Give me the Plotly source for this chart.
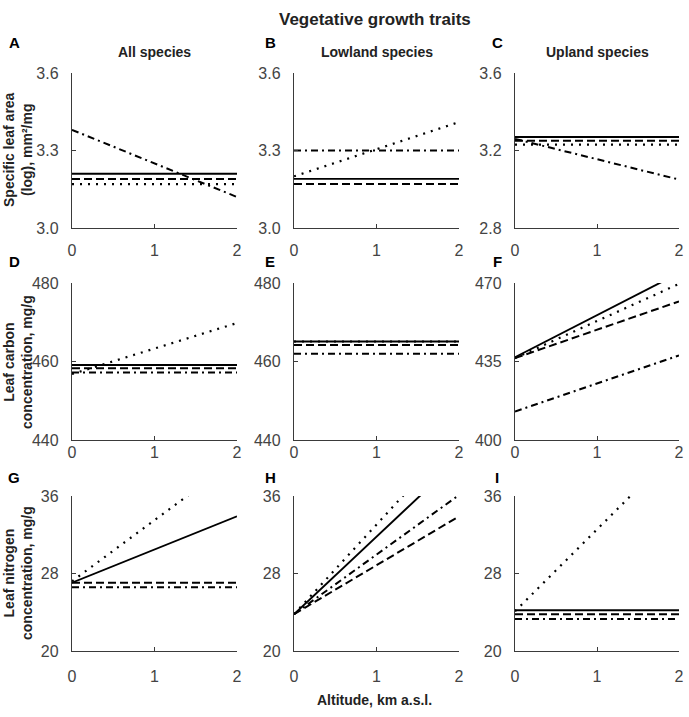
import plotly.graph_objects as go

# ---------------- data ----------------
altitude = [0, 2]                      # km a.s.l.
panels = ["A", "B", "C", "D", "E", "F", "G", "H", "I"]
col_titles = ["All species", "Lowland species", "Upland species"]
row_titles = ["Specific leaf area<br>(log), mm²/mg",
              "Leaf carbon<br>concentration, mg/g",
              "Leaf nitrogen<br>concentration, mg/g"]

# value at 0 km and at 2 km for each panel A..I
solid_start   = [3.21, 3.19, 3.27, 459.1, 465.1, 436.9, 27.05, 23.8, 24.2]
solid_end     = [3.21, 3.19, 3.27, 459.1, 465.1, 474.4, 33.9, 39.8, 24.2]
dashed_start  = [3.19, 3.17, 3.25, 458.3, 464.2, 436.5, 27.05, 23.8, 23.8]
dashed_end    = [3.19, 3.17, 3.25, 458.3, 464.2, 461.8, 27.05, 33.9, 23.8]
dotted_start  = [3.17, 3.20, 3.23, 456.8, 465.1, 436.5, 27.2, 23.8, 24.1]
dotted_end    = [3.17, 3.41, 3.23, 469.8, 465.1, 469.6, 39.8, 42.3, 41.0]
dashdot_start = [3.38, 3.30, 3.26, 457.2, 462.0, 412.7, 26.57, 23.8, 23.3]
dashdot_end   = [3.12, 3.30, 3.05, 457.2, 462.0, 437.7, 26.57, 36.1, 23.3]

y_ranges = [[3.0, 3.6], [3.0, 3.6], [2.8, 3.6],
            [440, 480], [440, 480], [400, 470],
            [20, 36], [20, 36], [20, 36]]
y_ticks = [[3.0, 3.3, 3.6], [3.0, 3.3, 3.6], [2.8, 3.2, 3.6],
           [440, 460, 480], [440, 460, 480], [400, 435, 470],
           [20, 28, 36], [20, 28, 36], [20, 28, 36]]
y_ticklabels = [["3.0", "3.3", "3.6"], ["3.0", "3.3", "3.6"], ["2.8", "3.2", "3.6"],
                ["440", "460", "480"], ["440", "460", "480"], ["400", "435", "470"],
                ["20", "28", "36"], ["20", "28", "36"], ["20", "28", "36"]]
x_ticks = [0, 1, 2]

# ---------------- layout geometry (page pixels) ----------------
W, H = 689, 717
col_px = [(72, 237), (294, 459), (515, 679)]
row_px = [(73, 228), (283, 440), (496, 651)]
xlab_standoff = [8, -2, 11]

def px_x(p):
    return p / W

def px_y(p):
    return 1 - p / H

fig = go.Figure()
axis_color = "#3a3a3a"
FONT = "Liberation Sans, Arial, sans-serif"
tick_font = dict(family=FONT, size=16, color="#444444")

styles = [
    ("dotted", dotted_start, dotted_end, "2px,6px", 2.2),
    ("dashdot", dashdot_start, dashdot_end, "7px,4px,2px,4px", 2.0),
    ("dashed", dashed_start, dashed_end, "8px,4px", 2.0),
    ("solid", solid_start, solid_end, "solid", 1.9),
]

for i, name in enumerate(panels):
    r, c = divmod(i, 3)
    idx = "" if i == 0 else str(i + 1)
    xa, ya = "x" + idx, "y" + idx
    for sname, s0, s1, dash, w in styles:
        fig.add_trace(go.Scatter(
            x=altitude, y=[s0[i], s1[i]], mode="lines",
            line=dict(color="black", width=w, dash=dash),
            xaxis=xa, yaxis=ya, showlegend=False, name=sname))
    x0, x1 = col_px[c]
    y0, y1 = row_px[r]
    fig.layout["xaxis" + idx] = dict(
        domain=[px_x(x0), px_x(x1)], range=[0, 2], anchor=ya,
        tickvals=x_ticks, ticks="inside", ticklen=4, tickcolor=axis_color,
        showline=True, linecolor=axis_color, linewidth=1.2,
        showgrid=False, zeroline=False, tickfont=tick_font, automargin=False,
        ticklabelstandoff=xlab_standoff[r], fixedrange=True)
    fig.layout["yaxis" + idx] = dict(
        domain=[px_y(y1), px_y(y0)], range=y_ranges[i], anchor=xa,
        tickvals=y_ticks[i], ticktext=y_ticklabels[i],
        ticks="inside", ticklen=4, tickcolor=axis_color,
        showline=True, linecolor=axis_color, linewidth=1.2,
        showgrid=False, zeroline=False, tickfont=tick_font, automargin=False,
        ticklabelstandoff=9, fixedrange=True)

ann = []
# main title
ann.append(dict(text="<b>Vegetative growth traits</b>", x=px_x(375), y=px_y(20),
                font=dict(family=FONT, size=17, color="#222")))
# column titles
for c, t in enumerate(col_titles):
    cx = (col_px[c][0] + col_px[c][1]) / 2
    ann.append(dict(text="<b>%s</b>" % t, x=px_x(cx), y=px_y(52),
                    font=dict(family=FONT, size=14, color="#222")))
# panel letters
letter_pos_x = [14, 270, 497]
letter_pos_y = [42, 262, 477]
for i, name in enumerate(panels):
    r, c = divmod(i, 3)
    ann.append(dict(text="<b>%s</b>" % name, x=px_x(letter_pos_x[c]), y=px_y(letter_pos_y[r]),
                    font=dict(family=FONT, size=15, color="black")))
# row (y-axis) titles
row_title_y = [150, 362, 573]
for r, t in enumerate(row_titles):
    ann.append(dict(text="<b>%s</b>" % t, x=px_x(18), y=px_y(row_title_y[r]), textangle=-90,
                    font=dict(family=FONT, size=14, color="#222")))
# x-axis title
ann.append(dict(text="<b>Altitude, km a.s.l.</b>", x=px_x(375), y=px_y(700),
                font=dict(family=FONT, size=14, color="#222")))

for a in ann:
    a.update(xref="paper", yref="paper", showarrow=False, xanchor="center", yanchor="middle")

fig.update_layout(width=W, height=H, margin=dict(l=0, r=0, t=0, b=0, pad=0),
                  template="none",
                  paper_bgcolor="white", plot_bgcolor="white", annotations=ann)

fig.write_html("out.html",
               config={"displayModeBar": False, "staticPlot": True},
               post_script="document.body.style.margin='0px';document.body.style.overflow='hidden';")
